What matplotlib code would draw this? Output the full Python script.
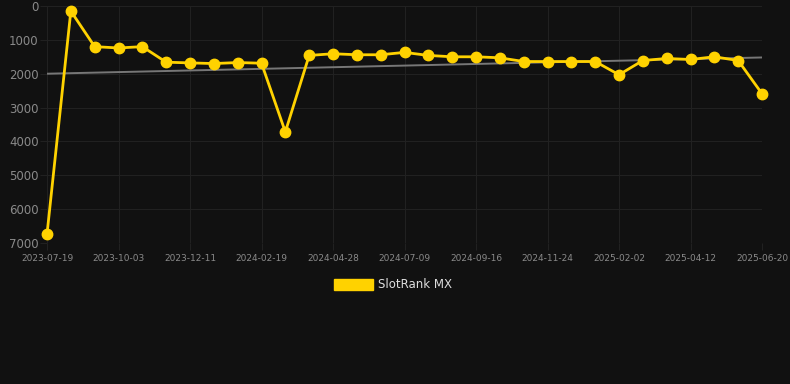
import numpy as np
import matplotlib.pyplot as plt
from matplotlib.patches import Patch

# rank values (lower is better), one per observation
ranks = [6740, 150, 1200, 1240, 1200, 1660, 1680, 1700, 1670, 1690,
         3720, 1460, 1410, 1440, 1440, 1370, 1460, 1500, 1500, 1530,
         1640, 1640, 1640, 1640, 2030, 1610, 1550, 1580, 1500, 1610, 2590]
tick_labels = ['2023-07-19', '2023-10-03', '2023-12-11', '2024-02-19',
               '2024-04-28', '2024-07-09', '2024-09-16', '2024-11-24',
               '2025-02-02', '2025-04-12', '2025-06-20']
trend_ends = [2000, 1520]
series_name = 'SlotRank MX'

bg = '#111111'
gold = '#FFD200'
grid_c = '#212121'

fig = plt.figure(figsize=(7.9, 3.84), dpi=100, facecolor=bg)
ax = fig.add_axes([47/790, 1 - 243/384, 715/790, 237/384])
ax.set_facecolor(bg)

x = np.arange(len(ranks))
ax.plot([x[0], x[-1]], trend_ends, color='#777777', lw=1.4, zorder=2)
ax.plot(x, ranks, color=gold, lw=2, marker='o', ms=7.5, zorder=3, clip_on=False)

ax.set_xlim(0, len(ranks) - 1)
ax.set_ylim(7000, 0)
ax.set_yticks(range(0, 7001, 1000))
ax.set_xticks(x[::3])
ax.set_xticklabels(tick_labels)

ax.grid(True, color=grid_c, lw=0.8)
for s in ax.spines.values():
    s.set_visible(False)
ax.tick_params(axis='y', colors=grid_c, labelcolor='#8a8a8a', labelsize=8.5, length=5, pad=1)
ax.tick_params(axis='x', colors=grid_c, labelcolor='#8a8a8a', labelsize=6.5, length=5, pad=3)

leg = fig.legend(handles=[Patch(color=gold, label=series_name)], loc='center',
                 bbox_to_anchor=(393/790, 1 - 285/384), frameon=False,
                 handlelength=3.3, handleheight=1.0, handletextpad=0.5, fontsize=8.5)
for t in leg.get_texts():
    t.set_color('#dddddd')

fig.savefig('out.png', dpi=100, facecolor=bg)
